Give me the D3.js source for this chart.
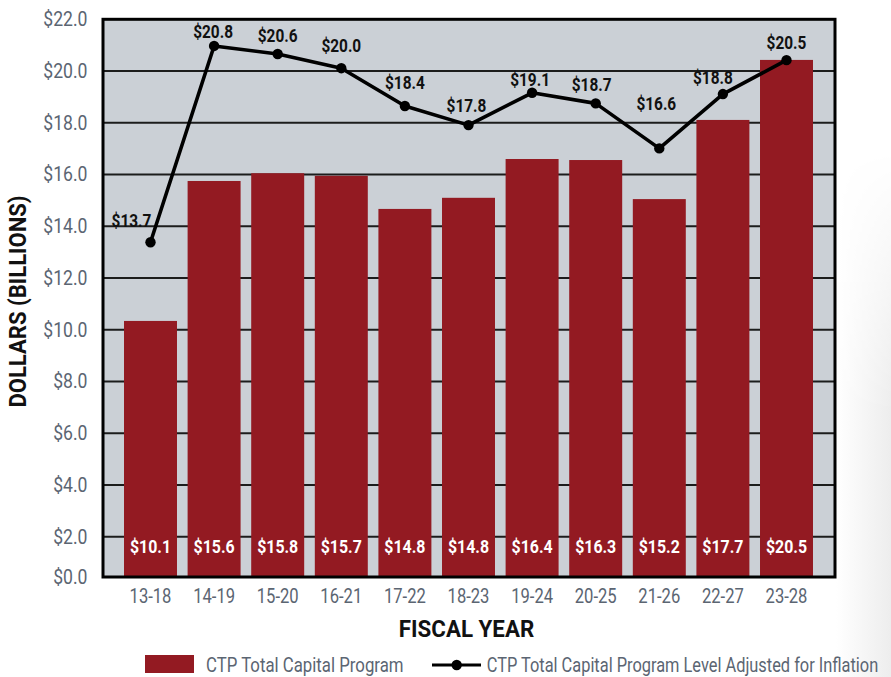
<!DOCTYPE html>
<html>
<head>
<meta charset="utf-8">
<script src="https://cdn.jsdelivr.net/npm/d3@7/dist/d3.min.js"></script>
<style>
  html, body { margin: 0; padding: 0; background: #ffffff; }
  svg { display: block; }
</style>
</head>
<body>
<svg id="chart" width="891" height="677"></svg>
<script>
// ---- data ----
const categories = ["13-18","14-19","15-20","16-21","17-22","18-23","19-24","20-25","21-26","22-27","23-28"];
const barValues  = [10.34, 15.75, 16.05, 15.95, 14.67, 15.10, 16.60, 16.56, 15.05, 18.11, 20.43];
const barLabels  = ["$10.1","$15.6","$15.8","$15.7","$14.8","$14.8","$16.4","$16.3","$15.2","$17.7","$20.5"];
const lineValues = [13.38, 20.97, 20.66, 20.11, 18.65, 17.91, 19.16, 18.75, 17.01, 19.11, 20.42];
const lineLabels = ["$13.7","$20.8","$20.6","$20.0","$18.4","$17.8","$19.1","$18.7","$16.6","$18.8","$20.5"];
const yTicks     = [0, 2, 4, 6, 8, 10, 12, 14, 16, 18, 20, 22];
const seriesNames = ["CTP Total Capital Program", "CTP Total Capital Program Level Adjusted for Inflation"];
const xTitle = "FISCAL YEAR";
const yTitle = "DOLLARS (BILLIONS)";

// ---- layout / style ----
const frame = { left: 103, right: 835, top: 19.3, bottom: 577 };
const barColor = "#931a22";
const plotBg = "#cbd0d6";
const tickColor = "#5b6572";
const font = "Roboto, 'Liberation Sans', sans-serif";
// label nudges relative to each line point [dx, dy]
const lineLabelNudge = [[-19,-15],[-1,-8],[0,-12],[0,-16],[0,-17],[-2,-13],[-2,-7],[-4,-12],[-3,-38],[-10,-10],[0,-11]];

// horizontally condense text (the reference uses a condensed face)
function condense(sel, factor) {
  sel.each(function () {
    const w = this.getComputedTextLength();
    d3.select(this).attr("textLength", w * factor).attr("lengthAdjust", "spacingAndGlyphs");
  });
}

const svg = d3.select("#chart");

// faint background fade at right edge
const defs = svg.append("defs");
const grad = defs.append("linearGradient").attr("id","fade").attr("x1","0").attr("x2","1").attr("y1","0").attr("y2","0");
grad.append("stop").attr("offset","0").attr("stop-color","#ffffff");
grad.append("stop").attr("offset","1").attr("stop-color","#ededed");
const mgrad = defs.append("linearGradient").attr("id","vfade").attr("x1","0").attr("x2","0").attr("y1","0").attr("y2","1");
mgrad.append("stop").attr("offset","0").attr("stop-color","#000");
mgrad.append("stop").attr("offset","0.5").attr("stop-color","#fff");
mgrad.append("stop").attr("offset","1").attr("stop-color","#fff");
const mask = defs.append("mask").attr("id","fadeMask");
mask.append("rect").attr("x", 836).attr("y", 150).attr("width", 55).attr("height", 527).attr("fill", "url(#vfade)");
svg.append("rect").attr("x", 836).attr("y", 150).attr("width", 55).attr("height", 527)
  .attr("fill", "url(#fade)").attr("mask", "url(#fadeMask)");

const x = d3.scaleBand()
  .domain(categories)
  .range([118.7, 818.3])
  .paddingInner(0.167)
  .paddingOuter(0.0835);

const y = d3.scaleLinear()
  .domain([0, 2, 22])
  .range([frame.bottom, 536.7, frame.top]);

// plot background
svg.append("rect")
  .attr("x", frame.left).attr("y", frame.top)
  .attr("width", frame.right - frame.left).attr("height", frame.bottom - frame.top)
  .attr("fill", plotBg);

// gridlines
svg.append("g").selectAll("line")
  .data(yTicks.filter(d => d > 0 && d < 22))
  .join("line")
  .attr("x1", frame.left).attr("x2", frame.right)
  .attr("y1", d => y(d)).attr("y2", d => y(d))
  .attr("stroke", "#1c1c1c").attr("stroke-width", 2);

// bars
svg.append("g").selectAll("rect")
  .data(categories)
  .join("rect")
  .attr("x", d => x(d))
  .attr("width", x.bandwidth())
  .attr("y", (d, i) => y(barValues[i]))
  .attr("height", (d, i) => y(0) - y(barValues[i]))
  .attr("fill", barColor);

// frame
svg.append("rect")
  .attr("x", frame.left).attr("y", frame.top)
  .attr("width", frame.right - frame.left).attr("height", frame.bottom - frame.top)
  .attr("fill", "none").attr("stroke", "#000").attr("stroke-width", 3);

// y axis tick labels
const yAxis = d3.axisLeft(y).tickValues(yTicks).tickSize(0).tickPadding(0)
  .tickFormat(d => "$" + d3.format(".1f")(d));
const yg = svg.append("g").attr("transform", `translate(87.5,0)`).call(yAxis);
yg.select(".domain").remove();
yg.selectAll("text")
  .attr("x", 0)
  .attr("fill", tickColor)
  .style("font-family", font)
  .style("font-size", "20px")
  .call(condense, 0.88);

// x axis tick labels
const xAxis = d3.axisBottom(x).tickSize(0).tickPadding(0);
const xg = svg.append("g").attr("transform", `translate(0,${frame.bottom})`).call(xAxis);
xg.select(".domain").remove();
xg.selectAll("text")
  .attr("y", 0)
  .attr("dy", "26px")
  .attr("fill", tickColor)
  .style("font-family", font)
  .style("font-size", "20px")
  .call(condense, 0.83);

// bar value labels
svg.append("g").selectAll("text")
  .data(categories)
  .join("text")
  .attr("x", d => x(d) + x.bandwidth() / 2)
  .attr("y", 553)
  .attr("text-anchor", "middle")
  .attr("fill", "#ffffff")
  .style("font-family", font)
  .style("font-weight", "700")
  .style("font-size", "18.5px")
  .text((d, i) => barLabels[i])
  .call(condense, 0.86);

// line
const cx = d => x(d) + x.bandwidth() / 2;
const line = d3.line().x(d => cx(d)).y((d, i) => y(lineValues[i]));
svg.append("path")
  .datum(categories)
  .attr("d", line)
  .attr("fill", "none")
  .attr("stroke", "#000")
  .attr("stroke-width", 3.6)
  .attr("stroke-linejoin", "round");

svg.append("g").selectAll("circle")
  .data(categories)
  .join("circle")
  .attr("cx", d => cx(d))
  .attr("cy", (d, i) => y(lineValues[i]))
  .attr("r", 5.2)
  .attr("fill", "#000");

svg.append("g").selectAll("text")
  .data(categories)
  .join("text")
  .attr("x", (d, i) => cx(d) + lineLabelNudge[i][0])
  .attr("y", (d, i) => y(lineValues[i]) + lineLabelNudge[i][1])
  .attr("text-anchor", "middle")
  .attr("fill", "#111")
  .style("font-family", font)
  .style("font-weight", "700")
  .style("font-size", "17.5px")
  .text((d, i) => lineLabels[i])
  .call(condense, 0.88);

// axis titles
svg.append("text")
  .attr("x", 466.5).attr("y", 637)
  .attr("text-anchor", "middle")
  .attr("fill", "#111")
  .style("font-family", font)
  .style("font-weight", "700")
  .style("font-size", "24px")
  .text(xTitle)
  .call(condense, 0.93);

svg.append("text")
  .attr("transform", "translate(25.5,301.5) rotate(-90)")
  .attr("text-anchor", "middle")
  .attr("fill", "#111")
  .style("font-family", font)
  .style("font-weight", "700")
  .style("font-size", "24.5px")
  .text(yTitle)
  .call(condense, 0.9);

// legend (text condensed with a horizontal scale transform)
const lg = svg.append("g");
lg.append("rect").attr("x", 145).attr("y", 655).attr("width", 49).attr("height", 18).attr("fill", barColor);
lg.append("text")
  .attr("transform", "translate(206,672) scale(0.84,1)")
  .attr("fill", tickColor)
  .style("font-family", font).style("font-size", "20px")
  .text(seriesNames[0]);
lg.append("line").attr("x1", 432).attr("x2", 481).attr("y1", 665).attr("y2", 665)
  .attr("stroke", "#000").attr("stroke-width", 3);
lg.append("circle").attr("cx", 456.7).attr("cy", 665).attr("r", 5.2).attr("fill", "#000");
lg.append("text")
  .attr("transform", "translate(486.7,672) scale(0.82,1)")
  .attr("fill", tickColor)
  .style("font-family", font).style("font-size", "20px")
  .text(seriesNames[1]);
</script>
</body>
</html>
